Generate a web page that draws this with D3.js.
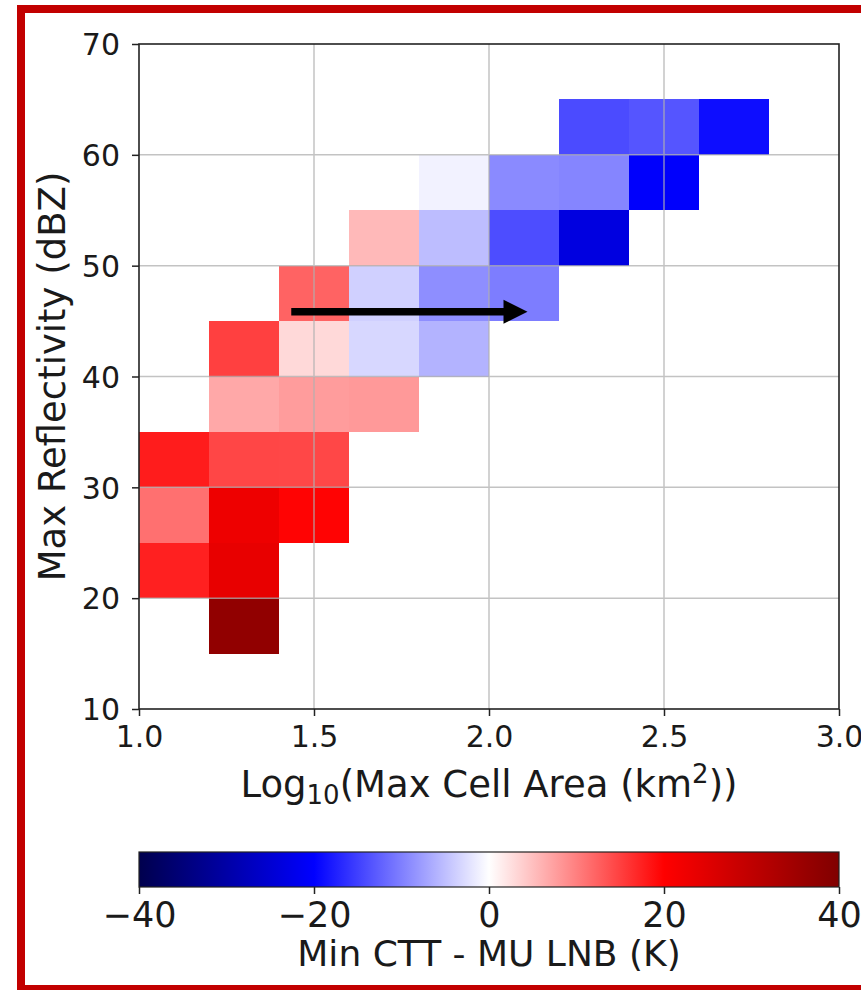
<!DOCTYPE html>
<html>
<head>
<meta charset="utf-8">
<script src="https://cdn.jsdelivr.net/npm/d3@7"></script>
<style>
  html, body { margin: 0; padding: 0; background: #fff; }
  svg { display: block; }
  text { font-family: "DejaVu Sans", sans-serif; fill: #1a1a1a; }
</style>
</head>
<body>
<script>
// Bin edges (left / bottom edges of each cell)
const logAreaEdges = [1.0, 1.2, 1.4, 1.6, 1.8, 2.0, 2.2, 2.4, 2.6];
const areaBinWidth = 0.2;
const reflEdges = [15, 20, 25, 30, 35, 40, 45, 50, 55, 60];
const reflBinHeight = 5;

// Min CTT - MU LNB (K); one row per reflectivity bin, bottom to top; null = no data
const cttMinusLnb = [
  [null, 37.4, null, null, null, null, null, null, null],   // 15-20
  [17.5, 23.6, null, null, null, null, null, null, null],   // 20-25
  [11.2, 22.7, 19.8, null, null, null, null, null, null],   // 25-30
  [17.8, 14.5, 14.4, null, null, null, null, null, null],   // 30-35
  [null, 6.8, 7.8, 8.0, null, null, null, null, null],      // 35-40
  [null, 15.0, 3.0, -3.1, -6.0, null, null, null, null],    // 40-45
  [null, null, 12.2, -3.7, -8.9, -10.2, null, null, null],  // 45-50
  [null, null, null, 5.5, -5.2, -14.0, -23.5, null, null],  // 50-55
  [null, null, null, null, -1.0, -9.2, -9.6, -20.3, null],  // 55-60
  [null, null, null, null, null, null, -14.1, -13.3, -19.0] // 60-65
];

const xTicks = [1.0, 1.5, 2.0, 2.5, 3.0];
const yTicks = [10, 20, 30, 40, 50, 60, 70];
const cbTicks = [-40, -20, 0, 20, 40];

// Trend arrow, data coordinates (tail, head)
const arrowTail = [1.435, 45.85];
const arrowHead = [2.11, 45.85];

const W = 861, H = 990;
const plot = { left: 139, right: 839, top: 44, bottom: 709 };
const cbar = { left: 139, right: 839, top: 852, bottom: 887 };

const svg = d3.select("body").append("svg").attr("width", W).attr("height", H);

svg.append("rect").attr("width", W).attr("height", H).attr("fill", "#fff");
// red frame
svg.append("rect")
  .attr("x", 21).attr("y", 9).attr("width", 900).attr("height", 980)
  .attr("fill", "none").attr("stroke", "#c20000").attr("stroke-width", 8);

const x = d3.scaleLinear().domain([1.0, 3.0]).range([plot.left, plot.right]);
const y = d3.scaleLinear().domain([10, 70]).range([plot.bottom, plot.top]);

// matplotlib "seismic" colormap
const seismic = d3.scaleLinear()
  .domain([-40, -20, 0, 20, 40])
  .range(["rgb(0,0,77)", "rgb(0,0,255)", "rgb(255,255,255)", "rgb(255,0,0)", "rgb(128,0,0)"])
  .clamp(true);

// cells
const cells = [];
cttMinusLnb.forEach((row, i) => row.forEach((v, j) => {
  if (v !== null) cells.push({ x0: logAreaEdges[j], y0: reflEdges[i], v });
}));

svg.append("g").selectAll("rect").data(cells).join("rect")
  .attr("x", d => x(d.x0))
  .attr("y", d => y(d.y0 + reflBinHeight))
  .attr("width", d => x(d.x0 + areaBinWidth) - x(d.x0))
  .attr("height", d => y(d.y0) - y(d.y0 + reflBinHeight))
  .attr("fill", d => seismic(d.v))
  .attr("shape-rendering", "crispEdges");

// grid on top of cells
const grid = svg.append("g").attr("stroke", "#b0b0b0").attr("stroke-width", 1.5).attr("opacity", 0.75);
grid.selectAll(".gx").data(xTicks.slice(1, -1)).join("line")
  .attr("x1", d => x(d)).attr("x2", d => x(d))
  .attr("y1", plot.top).attr("y2", plot.bottom);
grid.selectAll(".gy").data(yTicks.slice(1, -1)).join("line")
  .attr("y1", d => y(d)).attr("y2", d => y(d))
  .attr("x1", plot.left).attr("x2", plot.right);

// arrow
const ax0 = x(arrowTail[0]), ay = y(arrowTail[1]), ax1 = x(arrowHead[0]);
const headLen = 24, headHalf = 12, shaft = 7.5;
svg.append("line")
  .attr("x1", ax0).attr("x2", ax1 - headLen + 1).attr("y1", ay).attr("y2", ay)
  .attr("stroke", "#000").attr("stroke-width", shaft);
svg.append("path")
  .attr("d", `M${ax1},${ay} L${ax1 - headLen},${ay - headHalf} L${ax1 - headLen},${ay + headHalf} Z`)
  .attr("fill", "#000");

// axes
const xAxis = svg.append("g").attr("transform", `translate(0,${plot.bottom})`)
  .call(d3.axisBottom(x).tickValues(xTicks).tickFormat(d3.format(".1f")).tickSize(7).tickPadding(8));
const yAxis = svg.append("g").attr("transform", `translate(${plot.left},0)`)
  .call(d3.axisLeft(y).tickValues(yTicks).tickSize(7).tickPadding(12));
[xAxis, yAxis].forEach(g => {
  g.select(".domain").remove();
  g.selectAll(".tick line").attr("stroke", "#222").attr("stroke-width", 1.5);
  g.selectAll(".tick text").attr("font-size", 30).attr("fill", "#1a1a1a");
});
yAxis.selectAll(".tick text").attr("dy", "0.36em");
xAxis.selectAll(".tick text").attr("dy", "0.78em");

// spines
svg.append("rect")
  .attr("x", plot.left).attr("y", plot.top)
  .attr("width", plot.right - plot.left).attr("height", plot.bottom - plot.top)
  .attr("fill", "none").attr("stroke", "#222").attr("stroke-width", 1.6);

// axis labels
const xl = svg.append("text")
  .attr("x", (plot.left + plot.right) / 2).attr("y", 797)
  .attr("text-anchor", "middle").attr("font-size", 37);
xl.append("tspan").text("Log");
xl.append("tspan").attr("font-size", 26).attr("dy", 7).text("10");
xl.append("tspan").attr("dy", -7).text("(Max Cell Area (km");
xl.append("tspan").attr("font-size", 26).attr("dy", -14).text("2");
xl.append("tspan").attr("dy", 14).text("))");

svg.append("text")
  .attr("transform", `translate(65,${(plot.top + plot.bottom) / 2}) rotate(-90)`)
  .attr("text-anchor", "middle").attr("font-size", 37)
  .text("Max Reflectivity (dBZ)");

// colorbar
const cb = d3.scaleLinear().domain([-40, 40]).range([cbar.left, cbar.right]);
const grad = svg.append("defs").append("linearGradient").attr("id", "seismic-grad");
d3.range(0, 1.0001, 0.05).forEach(t => {
  grad.append("stop").attr("offset", `${t * 100}%`).attr("stop-color", seismic(-40 + 80 * t));
});
svg.append("rect")
  .attr("x", cbar.left).attr("y", cbar.top)
  .attr("width", cbar.right - cbar.left).attr("height", cbar.bottom - cbar.top)
  .attr("fill", "url(#seismic-grad)").attr("stroke", "#222").attr("stroke-width", 1.2);

const cbAxis = svg.append("g").attr("transform", `translate(0,${cbar.bottom})`)
  .call(d3.axisBottom(cb).tickValues(cbTicks).tickSize(7).tickPadding(6));
cbAxis.select(".domain").remove();
cbAxis.selectAll(".tick line").attr("stroke", "#222").attr("stroke-width", 1.5);
cbAxis.selectAll(".tick text").attr("font-size", 35).attr("fill", "#1a1a1a").attr("dy", "0.76em");

svg.append("text")
  .attr("x", (cbar.left + cbar.right) / 2).attr("y", 966)
  .attr("text-anchor", "middle").attr("font-size", 36)
  .text("Min CTT - MU LNB (K)");
</script>
</body>
</html>
